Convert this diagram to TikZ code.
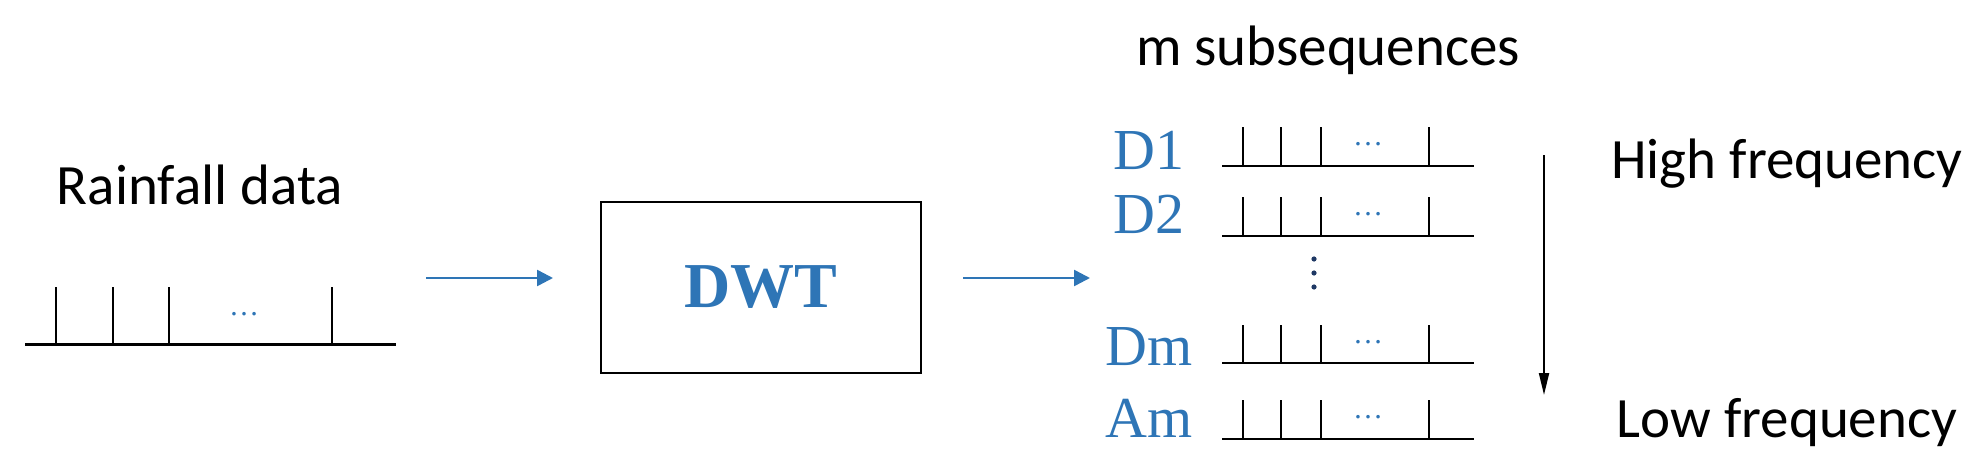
\documentclass[tikz,border=0pt]{standalone}
\usepackage{fontspec}
\setmainfont{Liberation Serif}
\newfontfamily\sansf{Carlito}
\usetikzlibrary{arrows.meta}
\definecolor{wblue}{HTML}{2E75B6}
\definecolor{dblue}{HTML}{1F3864}
\begin{document}
\begin{tikzpicture}[x=1pt,y=-1pt,
  lbl/.style={font=\sansf\fontsize{57}{60}\selectfont,inner sep=0pt},
  sub/.style={font=\fontsize{58}{60}\selectfont,text=wblue,inner sep=0pt},
  dots/.style={font=\fontsize{30}{30}\selectfont,text=wblue,inner sep=0pt},
  barr/.style={draw=wblue,line width=2.5pt,-{Triangle[length=16pt,width=16pt]}},
  base/.style={line width=3pt},
  tick/.style={line width=1.6pt}]
\useasboundingbox (0,0) rectangle (1983,476);
% rainfall
\node[lbl] (rain) at (200,185) {Rainfall data};
\coordinate (b0) at (25,344); \coordinate (b1) at (396,344);
\draw[base] (b0) -- (b1);
\foreach \x in {56,113,169,332} \draw[tick] (\x,344) -- (\x,287);
\node[dots] (rd) at (244,314) {\dots};
% arrows and box
\node[draw,line width=2pt,minimum width=320pt,minimum height=171pt,inner sep=0pt] (dwt) at (761,287.5)
  {\textcolor{wblue}{\fontsize{64}{66}\selectfont\bfseries DWT}};
\coordinate (a1s) at (426,278); \coordinate (a1e) at (553,278);
\draw[barr] (a1s) -- (a1e);
\coordinate (a2s) at (963,278); \coordinate (a2e) at (1090,278);
\draw[barr] (a2s) -- (a2e);
\node[lbl] (msub) at (1328,50) {m subsequences};
% subsequences
\foreach \n/\t/\ly/\by/\ty in {d1/D1/150/166/127, d2/D2/214/236/197, dm/Dm/347/363/325, am/Am/418/439/400}{
  \node[sub] (\n) at (1149,\ly) {\t};
  \draw[base,line width=2.5pt] (1222,\by) -- (1474,\by);
  \foreach \x in {1243,1281,1321,1429} \draw[tick] (\x,\by) -- (\x,\ty);
  \node[dots] at (1368,\ty+17) {\dots};
}
\foreach \y in {259,273,287} \fill[dblue] (1314,\y) circle (2.6pt);
% frequency arrow
\coordinate (fs) at (1544,155); \coordinate (fe) at (1544,395);
\draw[line width=2pt,-{Triangle[length=22pt,width=10pt]}] (fs) -- (fe);
\node[lbl,anchor=base] (hf) at (1787,178) {High frequency};
\node[lbl,anchor=base] (lf) at (1787,437) {Low frequency};
\end{tikzpicture}
\end{document}
